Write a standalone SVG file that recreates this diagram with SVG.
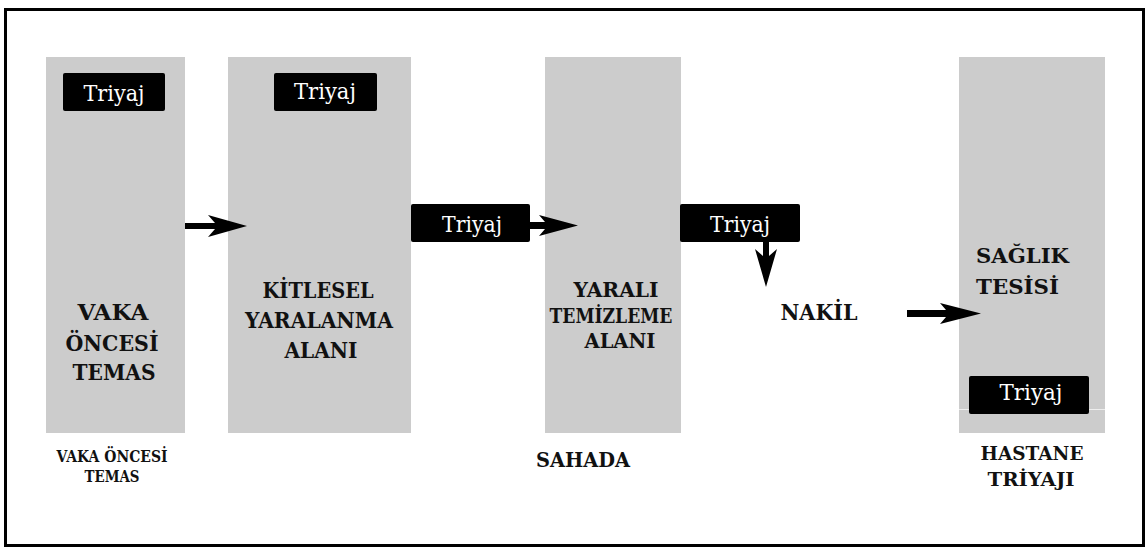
<svg xmlns="http://www.w3.org/2000/svg" width="1147" height="547" viewBox="0 0 1147 547">
<style>
.area{fill:#cccccc}
.tri{fill:#000000}
.tt{font-size:22px;fill:#ffffff;text-anchor:middle}
.lbl{font-weight:bold;fill:#111111;text-anchor:middle}
.st{text-anchor:start}
.arr{fill:#000000}
</style>
<rect x="0" y="0" width="1147" height="547" fill="#ffffff"/>
<rect x="5.5" y="9.5" width="1138" height="536" fill="none" stroke="#000" stroke-width="3"/>
<g font-family="'DejaVu Serif', 'Liberation Serif', serif">
<g id="vaka-oncesi">
<rect class="area" x="46" y="57" width="139" height="376"/>
<rect class="tri" x="63" y="73" width="102" height="38" rx="2"/>
<text class="tt" x="114" y="101" textLength="61" lengthAdjust="spacingAndGlyphs">Triyaj</text>
<text class="lbl" font-size="23" x="113" y="320" textLength="71" lengthAdjust="spacingAndGlyphs">VAKA</text>
<text class="lbl" font-size="23" x="112" y="351" textLength="93" lengthAdjust="spacingAndGlyphs">ÖNCESİ</text>
<text class="lbl" font-size="23" x="114" y="380" textLength="83" lengthAdjust="spacingAndGlyphs">TEMAS</text>
<text class="lbl" font-size="16" x="112" y="462" textLength="111" lengthAdjust="spacingAndGlyphs">VAKA ÖNCESİ</text>
<text class="lbl" font-size="16" x="112" y="482" textLength="55" lengthAdjust="spacingAndGlyphs">TEMAS</text>
</g>

<g id="kitlesel">
<rect class="area" x="228" y="57" width="183" height="376"/>
<rect class="tri" x="274" y="73" width="103" height="38" rx="2"/>
<text class="tt" x="325" y="99" textLength="62" lengthAdjust="spacingAndGlyphs">Triyaj</text>
<text class="lbl" font-size="23" x="318" y="298" textLength="111" lengthAdjust="spacingAndGlyphs">KİTLESEL</text>
<text class="lbl" font-size="23" x="319" y="328" textLength="148" lengthAdjust="spacingAndGlyphs">YARALANMA</text>
<text class="lbl" font-size="23" x="321" y="358" textLength="73" lengthAdjust="spacingAndGlyphs">ALANI</text>
</g>

<g id="triyaj-saha">
<rect class="tri" x="411" y="204" width="119" height="38" rx="2"/>
<text class="tt" x="472" y="232" textLength="60" lengthAdjust="spacingAndGlyphs">Triyaj</text>
</g>

<g id="yarali">
<rect class="area" x="545" y="57" width="136" height="376"/>
<text class="lbl" font-size="20" x="616" y="297" textLength="85" lengthAdjust="spacingAndGlyphs">YARALI</text>
<text class="lbl" font-size="20" x="611" y="323" textLength="123" lengthAdjust="spacingAndGlyphs">TEMİZLEME</text>
<text class="lbl" font-size="20" x="620" y="348" textLength="71" lengthAdjust="spacingAndGlyphs">ALANI</text>
<text class="lbl" font-size="21" x="583" y="467" textLength="94" lengthAdjust="spacingAndGlyphs">SAHADA</text>
</g>

<g id="triyaj-nakil">
<rect class="tri" x="680" y="204" width="120" height="38" rx="2"/>
<text class="tt" x="740" y="232" textLength="60" lengthAdjust="spacingAndGlyphs">Triyaj</text>
</g>

<g id="nakil">
<text class="lbl" font-size="22" x="819" y="320" textLength="77" lengthAdjust="spacingAndGlyphs">NAKİL</text>
</g>

<g id="saglik">
<rect class="area" x="959" y="57" width="146" height="376"/>
<line x1="959" y1="409.5" x2="1105" y2="409.5" stroke="#eeeeee" stroke-width="1"/>
<text class="lbl st" font-size="21" x="976" y="263" textLength="93" lengthAdjust="spacingAndGlyphs">SAĞLIK</text>
<text class="lbl st" font-size="21" x="976" y="294" textLength="83" lengthAdjust="spacingAndGlyphs">TESİSİ</text>
<rect class="tri" x="969" y="376" width="120" height="38" rx="2"/>
<text class="tt" x="1031" y="400" textLength="63" lengthAdjust="spacingAndGlyphs">Triyaj</text>
<text class="lbl" font-size="19" x="1032" y="460" textLength="103" lengthAdjust="spacingAndGlyphs">HASTANE</text>
<text class="lbl" font-size="19" x="1031" y="486" textLength="87" lengthAdjust="spacingAndGlyphs">TRİYAJI</text>
</g>
</g>
<g id="connectors">
<path class="arr" d="M185,223 L215,223 L208,215 L247,226 L208,237 L215,229 L185,229 Z"/>
<path class="arr" d="M530,222 L545,222 L539,215 L578,225.5 L539,236 L545,229 L530,229 Z"/>
<path class="arr" d="M763,242 L769,242 L769,256 L777,249 L766,287 L755,249 L763,256 Z"/>
<path class="arr" d="M907,310 L946,310 L940,303 L981,313.5 L940,324 L946,317 L907,317 Z"/>
</g>
</svg>
